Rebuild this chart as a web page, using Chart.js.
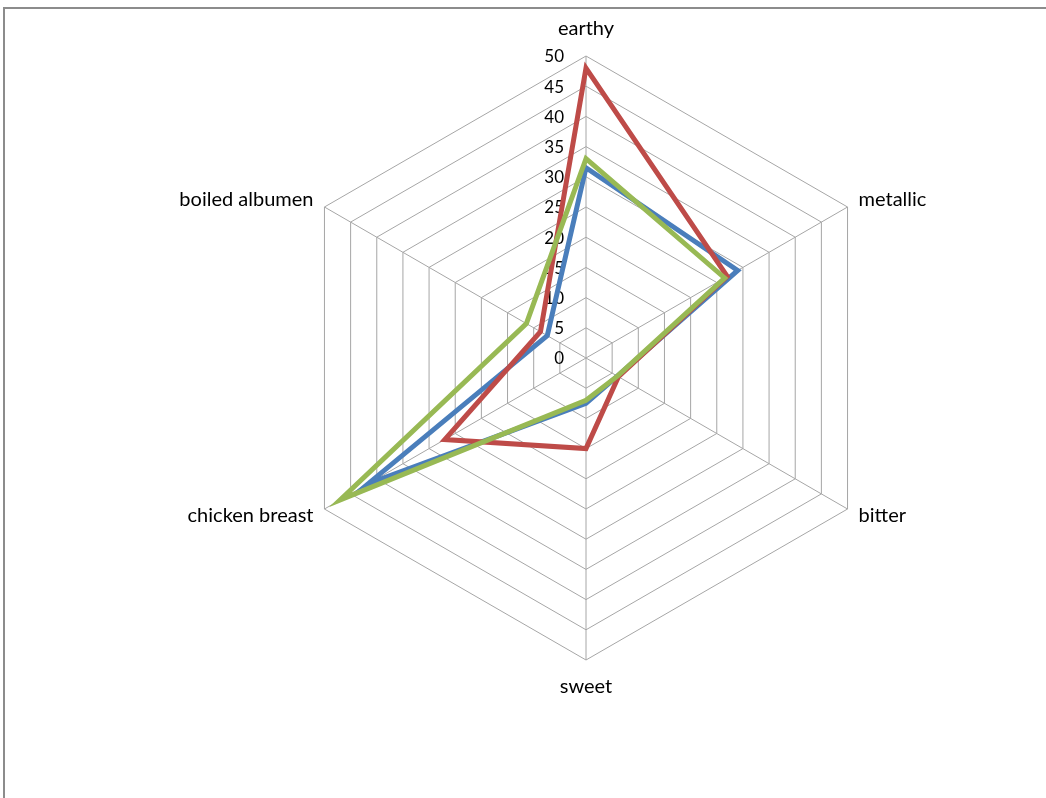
<!DOCTYPE html>
<html>
<head>
<meta charset="utf-8">
<script src="https://cdn.jsdelivr.net/npm/chart.js@4/dist/chart.umd.min.js"></script>
<style>
  html, body { margin: 0; padding: 0; background: #ffffff; }
  body { width: 1046px; height: 798px; position: relative; overflow: hidden; }
  #frame {
    position: absolute; left: 3px; top: 7px; width: 2000px; height: 2000px;
    border-left: 2px solid #8c8c8c; border-top: 2px solid #8c8c8c;
  }
  #chart { position: absolute; left: 0; top: 0; }
</style>
</head>
<body>
<div id="frame"></div>
<canvas id="chart" width="1046" height="798"></canvas>
<script>
// Flavour attributes around the radar
const categories = ['earthy', 'metallic', 'bitter', 'sweet', 'chicken breast', 'boiled albumen'];

// Attribute scores for the three samples
const seriesBlue  = [31.5, 29.0, 6.0, 7.5, 41.7, 7.4];
const seriesRed   = [48.0, 27.0, 6.2, 15.0, 27.0, 8.7];
const seriesGreen = [33.0, 26.5, 6.0, 7.0, 47.0, 11.4];

// Ring values and their labels
const ringValues = [0, 5, 10, 15, 20, 25, 30, 35, 40, 45, 50];
const ringLabels = ['0', '5', '10', '15', '20', '25', '30', '35', '40', '45', '50'];

const LABEL_FONT = '20px Lato, "Open Sans", sans-serif';
const TICK_FONT = '17px Lato, "Open Sans", sans-serif';

// Ring value labels, placed just left of the vertical axis
const ringLabelPlugin = {
  id: 'ringLabels',
  beforeDatasetsDraw(chart) {
    const s = chart.scales.r;
    const ctx = chart.ctx;
    ctx.save();
    ctx.font = TICK_FONT;
    ctx.fillStyle = '#000000';
    ctx.textAlign = 'right';
    ctx.textBaseline = 'middle';
    s.ticks.forEach((t, i) => {
      const d = s.getDistanceFromCenterForValue(t.value);
      ctx.fillText(ringLabels[i], s.xCenter - 22, s.yCenter - d + 1);
    });
    ctx.restore();
  }
};

// Category names at the outer corners of the hexagon
const cornerLabelPlugin = {
  id: 'cornerLabels',
  afterDraw(chart) {
    const s = chart.scales.r;
    const ctx = chart.ctx;
    ctx.save();
    ctx.font = LABEL_FONT;
    ctx.fillStyle = '#000000';
    ctx.textBaseline = 'middle';
    categories.forEach((name, i) => {
      const p = s.getPointPosition(i, s.drawingArea);
      const dx = p.x - s.xCenter;
      const dy = p.y - s.yCenter;
      let x = p.x, y = p.y;
      if (Math.abs(dx) < 1) {
        ctx.textAlign = 'center';
        y += dy < 0 ? -27 : 27;
      } else {
        ctx.textAlign = dx > 0 ? 'left' : 'right';
        x += dx > 0 ? 11 : -11;
        y += dy < 0 ? -7 : 7;
      }
      ctx.fillText(name, x, y);
    });
    ctx.restore();
  }
};

new Chart(document.getElementById('chart'), {
  type: 'radar',
  data: {
    labels: categories,
    datasets: [
      { label: 'blue',  data: seriesBlue,  borderColor: '#4A7EBB', order: 2 },
      { label: 'red',   data: seriesRed,   borderColor: '#BE4B48', order: 1 },
      { label: 'green', data: seriesGreen, borderColor: '#98B954', order: 0 }
    ]
  },
  options: {
    responsive: false,
    animation: false,
    devicePixelRatio: 1,
    layout: { padding: { left: 284, right: 158, top: 56, bottom: 138 } },
    elements: {
      line: { borderWidth: 5, fill: false, tension: 0, borderJoinStyle: 'miter' },
      point: { radius: 0, hoverRadius: 0 }
    },
    plugins: { legend: { display: false }, tooltip: { enabled: false } },
    scales: {
      r: {
        min: 0,
        max: 50,
        afterBuildTicks: (scale) => { scale.ticks = ringValues.map(v => ({ value: v })); },
        ticks: { display: false, stepSize: 5 },
        pointLabels: { display: false },
        grid: { color: '#a6a6a6', lineWidth: 1 },
        angleLines: { color: '#a6a6a6', lineWidth: 1 }
      }
    }
  },
  plugins: [ringLabelPlugin, cornerLabelPlugin]
});
</script>
</body>
</html>
